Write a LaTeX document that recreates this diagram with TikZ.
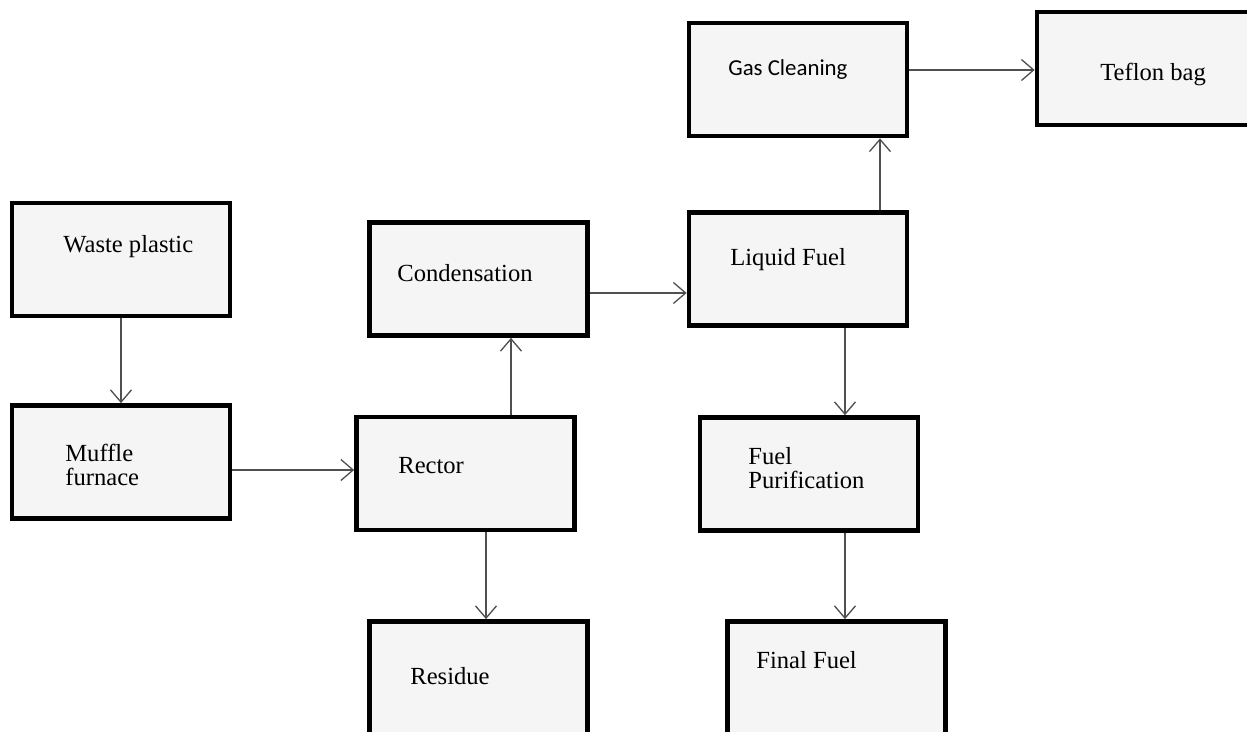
\documentclass[tikz,border=0pt]{standalone}
\usepackage{fontspec}
\setmainfont{Liberation Serif}
\newfontfamily\gasfont{Carlito}
\usetikzlibrary{arrows.meta}

\definecolor{boxgray}{HTML}{F5F5F5}
\definecolor{linegray}{HTML}{505050}

\tikzset{
  box/.style={draw=black, line width=2.7pt, fill=boxgray, minimum width=4.36cm, minimum height=2.26cm, inner sep=0pt},
  flow/.style={-{Straight Barb[length=7pt,width=12pt]}, draw=linegray, line width=0.75pt},
  lbl/.style={anchor=base west, inner sep=0pt, font=\fontsize{14}{14}\selectfont},
  lbltwo/.style={anchor=west, inner sep=0pt, align=left, font=\fontsize{14}{13.6}\selectfont}
}

\begin{document}
\begin{tikzpicture}[x=0.02cm, y=-0.02cm]
        \useasboundingbox (0,0) rectangle (1247,732);
        \clip (0,0) rectangle (1247,732);
        % boxes
        \node[box] (waste) at (121,259.5) {};
        \node[box] (muffle) at (121,462) {};
        \node[box] (rector) at (465.5,473.5) {};
        \node[box] (condense) at (478.5,279) {};
        \node[box] (residue) at (478.5,678) {};
        \node[box] (liquid) at (798,269) {};
        \node[box] (gas) at (798,79.5) {};
        \node[box, minimum width=4.6cm] (teflon) at (1152,68.5) {};
        \node[box] (purify) at (809,474) {};
        \node[box] (final) at (836.5,678) {};
        % labels
        \node[lbl] (wastetxt) at (63,253) {Waste plastic};
        \node[lbltwo] (muffletxt) at (65,465) {Muffle\\furnace};
        \node[lbl] (rectortxt) at (398,474) {Rector};
        \node[lbl] (condensetxt) at (397,282) {Condensation};
        \node[lbl] (residuetxt) at (410,684) {Residue};
        \node[lbl] (liquidtxt) at (730,266) {Liquid Fuel};
        \node[lbl, font=\gasfont\fontsize{13}{13}\selectfont] (gastxt) at (728,76) {Gas Cleaning};
        \node[lbl] (teflontxt) at (1100,81) {Teflon bag};
        \node[lbltwo] (purifytxt) at (748,468) {Fuel\\Purification};
        \node[lbl] (finaltxt) at (756,668) {Final Fuel};
        % connectors
        \draw[flow] (waste) -- (muffle);
        \draw[flow] ([yshift=-0.16cm]muffle.east) -- ([yshift=-0.16cm]muffle.east -| rector.west);
        \draw[flow] ([xshift=0.91cm]rector.north) -- ([xshift=0.91cm]rector.north |- condense.south);
        \draw[flow] ([xshift=0.41cm]rector.south) -- ([xshift=0.41cm]rector.south |- residue.north);
        \draw[flow] ([yshift=-0.28cm]condense.east) -- ([yshift=-0.28cm]condense.east -| liquid.west);
        \draw[flow] ([xshift=1.64cm]liquid.north) -- ([xshift=1.64cm]liquid.north |- gas.south);
        \draw[flow] ([yshift=0.19cm]gas.east) -- ([yshift=0.19cm]gas.east -| teflon.west);
        \draw[flow] ([xshift=0.94cm]liquid.south) -- ([xshift=0.94cm]liquid.south |- purify.north);
        \draw[flow] ([xshift=0.72cm]purify.south) -- ([xshift=0.72cm]purify.south |- final.north);
\end{tikzpicture}
\end{document}
